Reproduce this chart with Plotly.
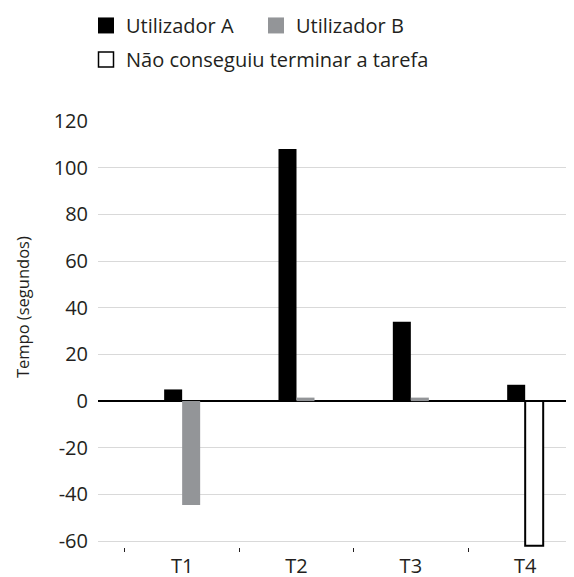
import plotly.graph_objects as go

tasks = ["T1", "T2", "T3", "T4"]
user_a = [5, 108, 34, 7]
user_b = [-44.5, 1.5, 1.5, None]
not_finished = [None, None, None, -62]
y_ticks = [-60, -40, -20, 0, 20, 40, 60, 80, 100, 120]
y_tick_labels = ["-60", "-40", "-20", "0", "20", "40", "60", "80", "100", "120"]

# page body has an 8px margin, so the figure is drawn 8px in from the top-left corner
OFF = 8
W, H = 574 - OFF, 577 - OFF
FONT = "Open Sans"
TXT = "#231f20"
COL_A = "#000000"
COL_B = "#939598"

Y_MIN, Y_MAX = -62.5, 120

fig = go.Figure()
fig.add_trace(go.Bar(x=tasks, y=user_a, name="Utilizador A", marker=dict(color=COL_A, line=dict(width=0)),
                     offsetgroup="A", showlegend=False))
fig.add_trace(go.Bar(x=tasks, y=user_b, name="Utilizador B", marker=dict(color=COL_B, line=dict(width=0)),
                     offsetgroup="B", showlegend=False))
fig.add_trace(go.Bar(x=tasks, y=not_finished, name="Não conseguiu terminar a tarefa",
                     marker=dict(color="#ffffff", line=dict(color="#000000", width=2)),
                     offsetgroup="B", showlegend=False))

# legend entries (large square keys)
fig.add_trace(go.Scatter(x=[None], y=[None], mode="markers", name="Utilizador A",
                         marker=dict(symbol="square", size=16, color=COL_A, line=dict(width=0)),
                         legend="legend"))
fig.add_trace(go.Scatter(x=[None], y=[None], mode="markers", name="Utilizador B",
                         marker=dict(symbol="square", size=16, color=COL_B, line=dict(width=0)),
                         legend="legend"))
fig.add_trace(go.Scatter(x=[None], y=[None], mode="markers", name="Não conseguiu terminar a tarefa",
                         marker=dict(symbol="square", size=15, color="#ffffff", line=dict(color="#000000", width=1.5)),
                         legend="legend2"))

# plot area in screen pixels: left 98, top 121 (y=120), right 574, bottom at y=-62.5
PX_PER_UNIT = (541 - 121) / 180
bottom_screen = 541 + (-60 - Y_MIN) * PX_PER_UNIT
L, T = 98 - OFF, 121 - OFF
R, B = 0, H - (bottom_screen - OFF)
PH = H - T - B
PW = W - L - R


def paper_y(screen_y):
    return (H - B - (screen_y - OFF)) / PH


fig.update_layout(
    width=W, height=H,
    margin=dict(l=L, r=R, t=T, b=B, autoexpand=False),
    paper_bgcolor="white", plot_bgcolor="white",
    font=dict(family=FONT, size=20, color=TXT),
    barmode="group", bargap=0.685, bargroupgap=0,
    showlegend=True,
    legend=dict(orientation="h", xref="container", yref="paper",
                x=78 / W, xanchor="left", y=paper_y(6), yanchor="top",
                entrywidth=125, font=dict(size=20, color=TXT), traceorder="normal",
                itemsizing="trace", bgcolor="rgba(0,0,0,0)"),
    legend2=dict(orientation="h", xref="container", yref="paper",
                 x=78 / W, xanchor="left", y=paper_y(40), yanchor="top",
                 itemsizing="trace", font=dict(size=20, color=TXT), bgcolor="rgba(0,0,0,0)"),
    annotations=[dict(text="Tempo (segundos)", xref="paper", yref="paper",
                      x=(22 - 98) / PW, y=paper_y(307),
                      xanchor="center", yanchor="middle", textangle=-90,
                      showarrow=False, font=dict(size=16.5, color=TXT))],
)
fig.update_xaxes(range=[-0.736, 3.427], tickson="boundaries", ticks="outside", ticklen=4,
                 tickcolor=TXT, tickwidth=1, showgrid=False, showline=False, zeroline=False,
                 ticklabelstandoff=5, automargin=False,
                 tickfont=dict(size=20, color=TXT))
fig.update_yaxes(range=[Y_MIN, Y_MAX], tickmode="array", tickvals=y_ticks, ticktext=y_tick_labels,
                 showgrid=True, gridcolor="#d9d9d9", gridwidth=1,
                 zeroline=True, zerolinecolor="#000000", zerolinewidth=2,
                 showline=False, ticks="", ticklabelstandoff=9, automargin=False,
                 tickfont=dict(size=20, color=TXT))

fig.write_html("out.html")
